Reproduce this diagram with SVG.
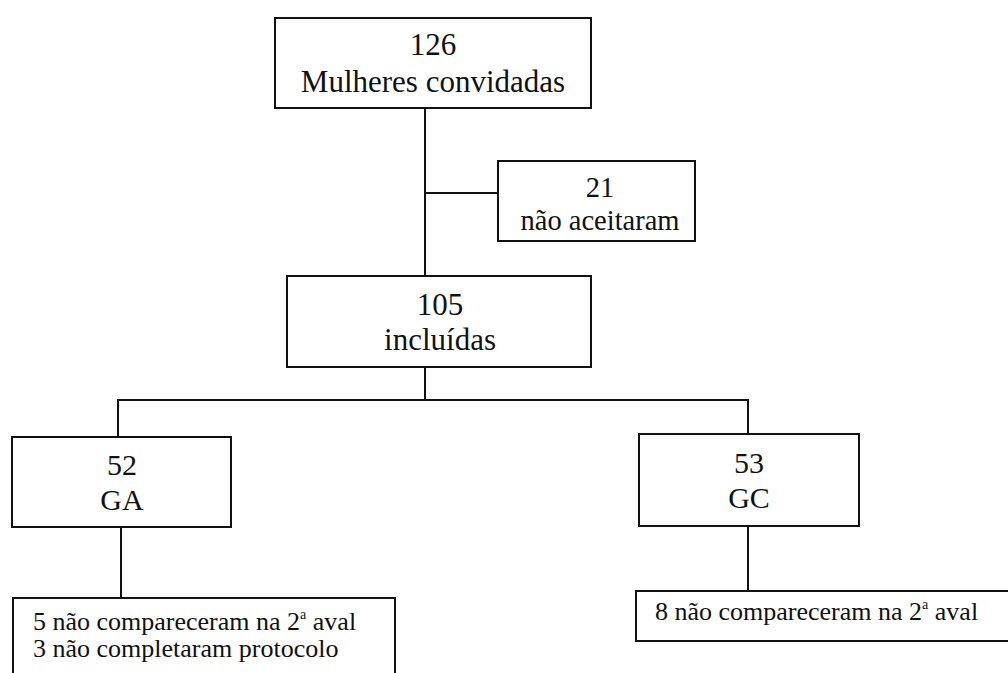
<svg xmlns="http://www.w3.org/2000/svg" width="1008" height="673" viewBox="0 0 1008 673">
<style>
.box{fill:#fff;stroke:#111;stroke-width:2}
.ln{fill:none;stroke:#111;stroke-width:2}
.c{text-anchor:middle;font-size:30px}
.b{font-size:31px}
.m{font-size:28.5px}
.s{font-size:26px}
.sup{font-size:14px}
</style>
<rect width="1008" height="673" fill="#fff"/>
<g id="connectors">
<path class="ln" d="M425 108 V276"/>
<path class="ln" d="M425 193 H498"/>
<path class="ln" d="M425 367 V400"/>
<path class="ln" d="M118 437 V400 H748 V434"/>
<path class="ln" d="M121 527 V598"/>
<path class="ln" d="M748 526 V591"/>
</g>
<g font-family="Liberation Serif, DejaVu Serif, serif" fill="#111">
<g id="n126">
<rect class="box" x="275" y="18" width="316" height="90"/>
<text class="c b" x="433" y="55">126</text>
<text class="c b" x="433" y="92">Mulheres convidadas</text>
</g>
<g id="n21">
<rect class="box" x="498" y="161" width="197" height="80"/>
<text class="c m" x="600" y="197">21</text>
<text class="c m" x="600" y="230">não aceitaram</text>
</g>
<g id="n105">
<rect class="box" x="287" y="276" width="304" height="91"/>
<text class="c b" x="440" y="315">105</text>
<text class="c b" x="440" y="350">incluídas</text>
</g>
<g id="nGA">
<rect class="box" x="12" y="437" width="219" height="90"/>
<text class="c" x="122" y="475">52</text>
<text class="c" x="122" y="510">GA</text>
</g>
<g id="nGC">
<rect class="box" x="639" y="434" width="220" height="92"/>
<text class="c" x="749" y="473">53</text>
<text class="c" x="749" y="508">GC</text>
</g>
<g id="nGAout">
<rect class="box" x="13" y="598" width="382" height="90"/>
<text class="s" x="33" y="630">5 não compareceram na 2<tspan class="sup" dy="-11">a</tspan><tspan dy="11"> aval</tspan></text>
<text class="s" x="33" y="657">3 não completaram protocolo</text>
</g>
<g id="nGCout">
<rect class="box" x="636" y="591" width="380" height="50"/>
<text class="s" x="655" y="620">8 não compareceram na 2<tspan class="sup" dy="-11">a</tspan><tspan dy="11"> aval</tspan></text>
</g>
</g>
</svg>
